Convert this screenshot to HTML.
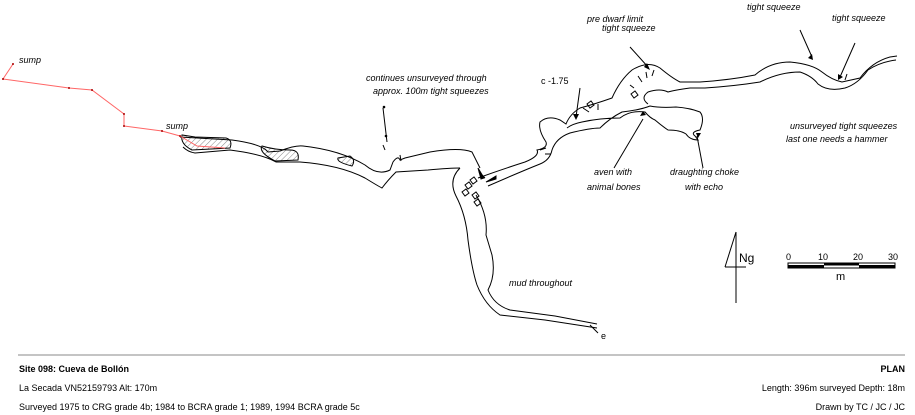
<!DOCTYPE html>
<html><head><meta charset="utf-8"><style>
body{margin:0;background:#fff;width:915px;height:415px;overflow:hidden}
svg{display:block;font-family:"Liberation Sans",sans-serif}
.i{font-style:italic;font-size:9px}
.t{font-size:9px}
</style></head><body>
<svg width="915" height="415" viewBox="0 0 915 415">
<defs><pattern id="h" width="4" height="4" patternUnits="userSpaceOnUse" patternTransform="rotate(45)"><line x1="0" y1="0" x2="0" y2="4" stroke="#888" stroke-width="1"/></pattern></defs>
<g fill="none" stroke="#000" stroke-width="1">
<!-- hatched sumps -->
<path d="M182,135 Q180,144 192,150 L230,148 Q233,140 226,138 L195,137 Z" fill="url(#h)"/>
<path d="M262,146 Q258,152 275,161 L298,160 Q300,150 290,150 Q275,150 262,146Z" fill="url(#h)"/>
<path d="M338,158 Q336,162 352,166 Q356,160 350,156 Z" fill="url(#h)"/>
<!-- main passage upper wall -->
<path d="M180,137 L232,140 Q262,144 268,152 L280,151 Q295,145 303,146 Q340,150 365,165 Q378,176 390,170 L393,162 Q398,155 400,160 L405,158 L430,152 Q460,147 472,152 L480,168"/>
<!-- lower wall -->
<path d="M183,147 Q188,152 195,153 L230,150 Q262,154 276,162 L300,162 Q340,165 365,178 Q378,186 382,188 Q388,180 396,172 L428,170 Q450,168 460,168"/>
<!-- mud passage -->
<path d="M460,168 Q448,180 456,196 Q466,215 468,240 Q472,270 477,285 Q485,305 500,315 L545,320 L597,328"/>
<path d="M476,195 Q488,215 486,235 L492,255 Q496,275 488,290 Q494,305 510,310 L555,316 L597,324"/>
<path d="M590,325 L598,333"/>
<!-- right branch -->
<path d="M478,178 Q500,170 525,162 Q540,156 537,150 Q548,148 546,142 Q538,130 540,122 Q548,115 560,120 L566,124 Q570,114 580,108 Q595,104 612,98 Q620,80 632,70 Q648,60 660,68 Q672,78 680,82 L700,82 Q730,80 755,75 Q770,62 790,62 Q812,64 822,72 Q832,80 842,82 L860,78 Q872,62 890,57 L897,56"/>
<path d="M488,186 Q520,172 540,164 Q550,160 552,150 Q556,138 570,133 Q590,128 600,128 Q610,118 622,112 Q640,110 650,106 Q660,108 676,107 Q690,108 700,112 Q705,118 700,130 Q690,132 695,136 L698,140 Q690,140 686,134 Q680,130 668,130 Q662,126 655,120 Q650,118 645,112 Q630,110 620,118 Q600,118 582,122 Q572,124 567,128"/>
<path d="M648,104 Q640,98 648,92 Q660,88 668,92 Q675,90 690,88 L705,88 Q735,86 760,82 Q780,72 800,72 Q812,76 818,84 Q828,92 845,88 Q858,84 868,70 Q880,62 896,60"/>
<!-- hash ticks & blocks -->
<path d="M638,76l4,6 M646,72l1,6 M654,70l-2,6 M630,85l4,3 M583,108l6,4 M598,104l0,6 M479,172l6,6 M540,150l6,-2 M545,154l6,0 M400,155l1,6 M845,80l2,-6"/>
<path d="M587,104l4,-3 3,4 -4,3z M631,94l4,-3 3,4 -4,3z M465,185l4,-3 3,4 -4,3z M470,180l4,-3 3,4 -4,3z M462,192l4,-3 3,4 -4,3z M472,195l4,-3 3,4 -4,3z M474,202l4,-3 3,4 -4,3z"/>
<path d="M478,168 l6,10 l-3,1z M486,182 l10,-6 l0,3z" fill="#000"/>
<!-- arrows -->
<path d="M387,142 L383,108 M580,88 L576,117 M630,47 L648,67 M800,30 L812,57 M855,43 L840,77 M614,168 L643,119 M703,168 L697,136"/>
<path d="M385,150 L383,145 M583,120" />
</g>
<g fill="#000">
<circle cx="384" cy="107" r="1.3"/><circle cx="386" cy="136" r="1.3"/>
<path d="M576,120 l-3,-6 6,0z M650,70 l-6,-3 3,-4z M813,60 l-5,-2 4,-4z M838,80 l0,-6 5,3z M646,115 l-6,1 3,-5z M696,133 l2,5 3,-5z"/>
</g>
<!-- survey line -->
<g stroke="#f66" stroke-width="1" fill="none"><polyline points="13,64 3,79 69,88 92,90 124,114 124,126 162,131 180,136 197,146 225,148"/></g>
<g fill="#a00"><circle cx="13" cy="64" r="1"/><circle cx="3" cy="79" r="1"/><circle cx="69" cy="88" r="1"/><circle cx="92" cy="90" r="1"/><circle cx="124" cy="114" r="1"/><circle cx="124" cy="126" r="1"/><circle cx="162" cy="131" r="1"/><circle cx="180" cy="136" r="1"/></g>
<!-- labels -->
<g class="i">
<text x="19" y="63">sump</text><text x="166" y="129">sump</text>
<text x="366" y="81">continues unsurveyed through</text><text x="373" y="94">approx. 100m tight squeezes</text>
<text x="587" y="22">pre dwarf limit</text><text x="602" y="31">tight squeeze</text>
<text x="747" y="10">tight squeeze</text><text x="832" y="21">tight squeeze</text>
<text x="790" y="129">unsurveyed tight squeezes</text><text x="786" y="142">last one needs a hammer</text>
<text x="594" y="175">aven with</text><text x="587" y="190">animal bones</text>
<text x="670" y="175">draughting choke</text><text x="685" y="190">with echo</text>
<text x="509" y="286">mud throughout</text>
</g>
<text x="541" y="84" class="t">c -1.75</text>
<text x="601" y="339" class="t">e</text>
<!-- north -->
<g stroke="#000" fill="none"><path d="M736,232 L736,303 M725,267 L746,267 M736,232 L725,267"/></g>
<text x="739" y="262" font-size="12">Ng</text>
<!-- scale -->
<rect x="788" y="263" width="107" height="5" fill="#fff" stroke="#000"/>
<rect x="788" y="265" width="36" height="3" fill="#000"/><rect x="824" y="263" width="35" height="2.5" fill="#000"/><rect x="859" y="265" width="36" height="3" fill="#000"/>
<g class="t"><text x="786" y="260">0</text><text x="818" y="260">10</text><text x="853" y="260">20</text><text x="888" y="260">30</text><text x="836" y="280" font-size="11">m</text></g>
<!-- footer -->
<line x1="18" y1="355" x2="905" y2="355" stroke="#888"/>
<g class="t">
<text x="19" y="372" font-weight="bold">Site 098: Cueva de Bollón</text>
<text x="905" y="372" font-weight="bold" text-anchor="end">PLAN</text>
<text x="19" y="391">La Secada VN52159793  Alt: 170m</text>
<text x="905" y="391" text-anchor="end">Length: 396m surveyed  Depth: 18m</text>
<text x="19" y="410">Surveyed 1975 to CRG grade 4b; 1984 to BCRA grade 1; 1989, 1994 BCRA grade 5c</text>
<text x="905" y="410" text-anchor="end">Drawn by TC / JC / JC</text>
</g>
</svg>
</body></html>
